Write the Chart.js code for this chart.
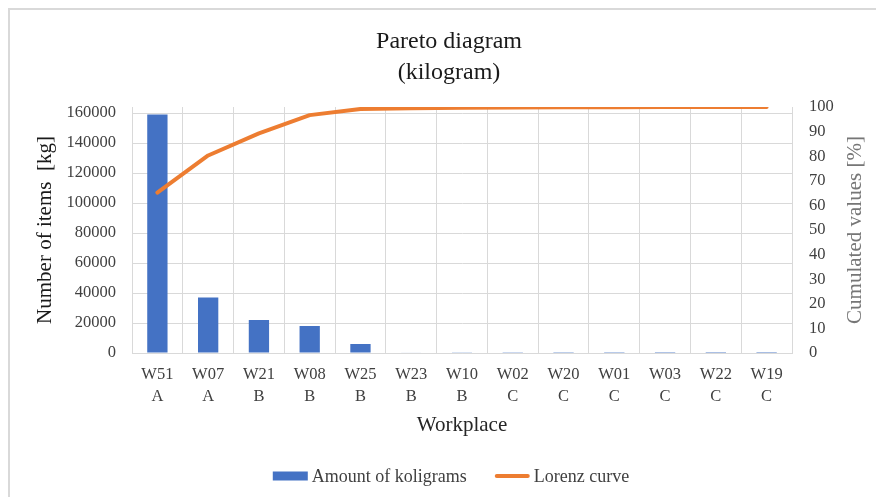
<!DOCTYPE html>
<html>
<head>
<meta charset="utf-8">
<script src="https://cdn.jsdelivr.net/npm/chart.js@4/dist/chart.umd.min.js"></script>
<style>
  html, body { margin: 0; padding: 0; background: #ffffff; }
  #wrap { position: relative; width: 876px; height: 497px; }
  canvas { display: block; }
</style>
</head>
<body>
<div id="wrap"><canvas id="chart" width="876" height="497"></canvas></div>
<script>
// Workplaces in Pareto order with their ABC class
const workplaces = ['W51', 'W07', 'W21', 'W08', 'W25', 'W23', 'W10', 'W02', 'W20', 'W01', 'W03', 'W22', 'W19'];
const abcClass   = ['A', 'A', 'B', 'B', 'B', 'B', 'B', 'C', 'C', 'C', 'C', 'C', 'C'];

// Amount per workplace [kg]
const kilograms = [159000, 37000, 22000, 18000, 6000, 300, 200, 150, 100, 80, 50, 30, 20];

// Cumulated share [%] (Lorenz curve)
const lorenz = [65.2, 80.3, 89.3, 96.7, 99.2, 99.5, 99.7, 99.8, 99.9, 99.9, 100, 100, 100];

// Axis tick values
const leftTicks  = [0, 20000, 40000, 60000, 80000, 100000, 120000, 140000, 160000];
const rightTicks = [0, 10, 20, 30, 40, 50, 60, 70, 80, 90, 100];

const labels = workplaces.map((w, i) => [w, abcClass[i]]);

const SERIF = '"Liberation Serif", "Times New Roman", serif';
const BLUE = '#4472C4';
const ORANGE = '#ED7D31';
const GRID = '#d9d9d9';

// Frame around the chart object
const framePlugin = {
  id: 'frame',
  beforeDraw(chart) {
    const ctx = chart.ctx;
    ctx.save();
    ctx.fillStyle = '#ffffff';
    ctx.fillRect(0, 0, chart.width, chart.height);
    ctx.strokeStyle = '#d9d9d9';
    ctx.lineWidth = 2;
    ctx.beginPath();
    ctx.moveTo(9, chart.height + 5);
    ctx.lineTo(9, 9);
    ctx.lineTo(chart.width + 5, 9);
    ctx.stroke();
    ctx.restore();
  }
};

// Secondary axis title, read bottom-to-top like the primary one
const rightTitlePlugin = {
  id: 'rightTitle',
  afterDraw(chart) {
    const ctx = chart.ctx;
    const area = chart.chartArea;
    ctx.save();
    ctx.translate(855, (area.top + area.bottom) / 2);
    ctx.rotate(-Math.PI / 2);
    ctx.font = '21px ' + SERIF;
    ctx.fillStyle = '#767676';
    ctx.textAlign = 'center';
    ctx.textBaseline = 'middle';
    ctx.fillText('Cumulated values [%]', 0, 0);
    ctx.restore();
  }
};

// Legend row at the bottom: box for bars, short stroke for the line
const legendPlugin = {
  id: 'bottomLegend',
  afterDraw(chart) {
    const ctx = chart.ctx;
    const ds = chart.data.datasets;
    ctx.save();
    ctx.font = '18px ' + SERIF;
    ctx.textBaseline = 'middle';
    const y = 476;
    const sym = 35, gapText = 4, gapItem = 28;
    const widths = ds.map(d => sym + gapText + ctx.measureText(d.label).width);
    const total = widths.reduce((a, b) => a + b, 0) + gapItem * (ds.length - 1);
    let x = 451 - total / 2;
    ds.forEach((d, i) => {
      if (d.type === 'line') {
        ctx.strokeStyle = d.borderColor;
        ctx.lineWidth = 4;
        ctx.lineCap = 'round';
        ctx.beginPath();
        ctx.moveTo(x + 2, y);
        ctx.lineTo(x + sym - 2, y);
        ctx.stroke();
      } else {
        ctx.fillStyle = d.backgroundColor;
        ctx.fillRect(x, y - 4.5, sym, 9);
      }
      ctx.fillStyle = '#404040';
      ctx.fillText(d.label, x + sym + gapText, y + 1);
      x += widths[i] + gapItem;
    });
    ctx.restore();
  }
};

new Chart(document.getElementById('chart'), {
  data: {
    labels: labels,
    datasets: [
      {
        type: 'bar',
        label: 'Amount of koligrams',
        data: kilograms,
        yAxisID: 'yKg',
        backgroundColor: BLUE,
        borderWidth: 0,
        barPercentage: 0.4,
        categoryPercentage: 1.0,
        order: 1
      },
      {
        type: 'line',
        label: 'Lorenz curve',
        data: lorenz,
        yAxisID: 'yPct',
        borderColor: ORANGE,
        backgroundColor: ORANGE,
        borderWidth: 4,
        borderCapStyle: 'round',
        borderJoinStyle: 'round',
        pointRadius: 0,
        tension: 0,
        order: 0
      }
    ]
  },
  options: {
    responsive: false,
    animation: false,
    devicePixelRatio: 1,
    layout: { padding: { left: 22, right: 0, top: 0, bottom: 44 } },
    plugins: {
      legend: { display: false },
      tooltip: { enabled: false },
      title: {
        display: true,
        text: ['Pareto diagram', '(kilogram)'],
        color: '#1a1a1a',
        font: { family: SERIF, size: 24, weight: 'normal', lineHeight: 31 / 24 },
        padding: { top: 26.5, bottom: 18.5 }
      }
    },
    scales: {
      x: {
        offset: true,
        grid: { color: GRID, lineWidth: 1, offset: true, drawTicks: false },
        border: { display: true, color: GRID, width: 1 },
        ticks: {
          color: '#404040',
          font: { family: SERIF, size: 16.5, lineHeight: 22 / 16.5 },
          padding: 11,
          maxRotation: 0,
          autoSkip: false
        },
        title: {
          display: true,
          text: 'Workplace',
          color: '#262626',
          font: { family: SERIF, size: 21, lineHeight: 1.2 },
          padding: { top: 0, bottom: 15 }
        },
        afterFit(scale) { scale.height = 100; }
      },
      yKg: {
        type: 'linear',
        position: 'left',
        min: 0,
        max: 164000,
        afterBuildTicks(scale) { scale.ticks = leftTicks.map(v => ({ value: v })); },
        grid: { color: GRID, lineWidth: 1, drawTicks: false },
        border: { display: true, color: GRID, width: 1 },
        ticks: {
          color: '#404040',
          font: { family: SERIF, size: 16.5 },
          padding: 16,
          callback: v => String(v)
        },
        title: {
          display: true,
          text: 'Number of items  [kg]',
          color: '#1a1a1a',
          font: { family: SERIF, size: 21, lineHeight: 1.2 },
          padding: { top: 11, bottom: 0 }
        },
        afterFit(scale) { scale.width = 110; }
      },
      yPct: {
        type: 'linear',
        position: 'right',
        min: 0,
        max: 100,
        afterBuildTicks(scale) { scale.ticks = rightTicks.map(v => ({ value: v })); },
        grid: { drawOnChartArea: false, drawTicks: false },
        border: { display: true, color: GRID, width: 1 },
        ticks: {
          color: '#404040',
          font: { family: SERIF, size: 16.5 },
          padding: 17,
          callback: v => String(v)
        },
        afterFit(scale) { scale.width = 84; }
      }
    }
  },
  plugins: [framePlugin, rightTitlePlugin, legendPlugin]
});
</script>
</body>
</html>
